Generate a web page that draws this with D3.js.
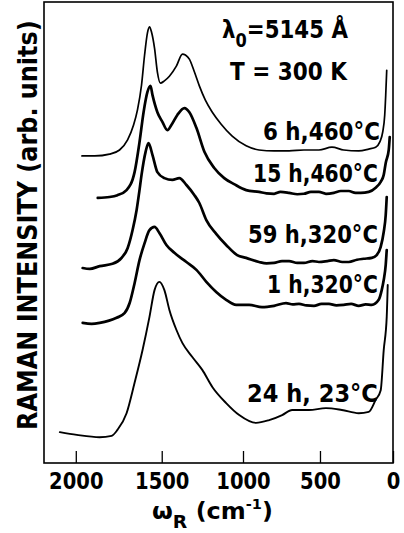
<!DOCTYPE html>
<html>
<head>
<meta charset="utf-8">
<script src="https://cdn.jsdelivr.net/npm/d3@7"></script>
<style>
  html, body { margin: 0; padding: 0; background: #fff; }
  svg text { font-family: "DejaVu Sans", sans-serif; fill: #000; }
</style>
</head>
<body>
<svg id="chart" width="404" height="533"></svg>
<script>
// Raman spectra of amorphous carbon films after different anneals (λ0 = 5145 Å, T = 300 K)
// Each spectrum: [Raman shift ω_R in cm^-1, intensity in arbitrary units incl. vertical offset]
const spec6h460 = [
  [1965, 66.6], [1892, 66.6], [1807, 67.0], [1749, 67.9], [1702, 70.1], [1667, 73.3],
  [1644, 76.6], [1620, 82.0], [1602, 88.5], [1585, 93.3], [1573, 94.6], [1561, 93.5],
  [1543, 90.0], [1526, 84.8], [1508, 82.4], [1484, 82.9], [1454, 83.9], [1412, 86.1],
  [1375, 88.7], [1357, 88.5], [1333, 87.6], [1302, 84.8], [1272, 81.8], [1235, 78.7],
  [1192, 76.1], [1137, 73.5], [1068, 70.9], [980, 68.8], [898, 67.9], [801, 67.7],
  [704, 67.7], [606, 67.9], [507, 67.9], [420, 68.5], [340, 67.9], [238, 67.7],
  [169, 68.1], [121, 68.5], [93, 69.6], [72, 71.8], [58, 75.5], [51, 79.8], [44, 85.2]
];
const spec15h460 = [
  [1875, 57.5], [1807, 57.7], [1761, 58.1], [1708, 59.2], [1661, 63.1], [1632, 69.6],
  [1608, 76.1], [1585, 80.5], [1567, 81.8], [1555, 79.8], [1526, 76.1], [1496, 74.0],
  [1466, 72.2], [1442, 73.3], [1406, 75.5], [1363, 77.0], [1333, 76.1], [1290, 72.7],
  [1241, 67.5], [1180, 64.0], [1118, 61.8], [1056, 60.5], [980, 59.2], [898, 58.8],
  [850, 58.5], [801, 58.4], [760, 58.8], [704, 58.6], [650, 58.3], [606, 58.4],
  [560, 58.8], [507, 58.8], [460, 58.4], [407, 58.6], [360, 59.0], [306, 59.0],
  [260, 58.6], [224, 58.6], [169, 58.8], [121, 59.7], [86, 61.0], [65, 62.5],
  [51, 65.1], [30, 67.9], [23, 70.7]
];
const spec59h320 = [
  [1961, 42.3], [1920, 42.1], [1864, 42.7], [1790, 43.2], [1737, 44.5], [1702, 46.6],
  [1673, 50.5], [1649, 54.9], [1632, 59.2], [1620, 62.5], [1596, 67.5], [1579, 69.4],
  [1555, 66.8], [1526, 63.1], [1484, 61.8], [1436, 61.4], [1394, 61.8], [1351, 60.3],
  [1302, 58.1], [1272, 56.4], [1229, 52.7], [1168, 49.7], [1106, 47.3], [1037, 45.1],
  [980, 44.5], [898, 43.6], [850, 43.3], [801, 43.4], [750, 43.8], [704, 43.8],
  [650, 43.4], [606, 43.4], [550, 43.8], [507, 43.6], [450, 43.8], [407, 44.0],
  [350, 43.6], [306, 43.6], [250, 44.1], [204, 44.3], [148, 44.5], [114, 45.1],
  [86, 46.9], [65, 50.1], [51, 53.8], [44, 57.7]
];
const spec1h320 = [
  [1961, 30.4], [1910, 30.2], [1864, 30.4], [1766, 31.5], [1720, 32.5], [1690, 34.7],
  [1661, 39.0], [1632, 44.0], [1602, 47.7], [1573, 50.5], [1543, 51.2], [1514, 49.9],
  [1472, 47.3], [1424, 45.6], [1351, 43.6], [1290, 41.9], [1229, 39.3], [1168, 37.1],
  [1106, 35.4], [1043, 34.3], [961, 34.3], [879, 33.8], [801, 34.1], [724, 34.7],
  [680, 34.4], [639, 34.5], [590, 34.2], [540, 34.1], [490, 34.5], [440, 34.5],
  [390, 34.2], [340, 34.3], [290, 34.5], [238, 34.1], [190, 34.4], [148, 34.3],
  [100, 35.4], [79, 37.5], [65, 39.7], [51, 43.0], [44, 46.2]
];
const spec24h23 = [
  [2090, 6.7], [1994, 6.1], [1864, 5.6], [1795, 5.9], [1761, 7.2], [1708, 10.8],
  [1661, 17.4], [1614, 24.5], [1573, 31.7], [1543, 37.5], [1514, 39.3], [1484, 37.5],
  [1454, 33.2], [1412, 28.9], [1375, 26.0], [1315, 23.0], [1254, 20.2], [1192, 16.5],
  [1106, 13.0], [1024, 10.4], [917, 8.7], [833, 9.3], [749, 10.4], [684, 11.5],
  [573, 11.5], [460, 11.9], [353, 11.5], [238, 10.8], [169, 11.1], [121, 13.7],
  [86, 15.8], [65, 24.5], [44, 31.7], [37, 38.6]
];

const spectra = [spec6h460, spec15h460, spec59h320, spec1h320, spec24h23];
const sampleLabels = ["6 h,460°C", "15 h,460°C", "59 h,320°C", "1 h,320°C", "24 h,  23°C"];
const xTicks = [2000, 1500, 1000, 500, 0];

// ---- layout ----
const W = 404, H = 533;
const plot = { left: 44, right: 393, top: 2, bottom: 463 };

// The monochromator scans linearly in wavelength, so the wavenumber axis is
// slightly compressed towards small shifts. Build a fine polylinear scale.
const lambda0 = 5145; // Å
const lambdaOf = w => 1e8 / (1e8 / lambda0 - w);
const xLam = d3.scaleLinear()
  .domain([lambdaOf(2178), lambdaOf(0)])
  .range([plot.left, plot.right]);
const wGrid = d3.range(2200, -1, -25);
const x = d3.scaleLinear()
  .domain(wGrid)
  .range(wGrid.map(w => xLam(lambdaOf(w))));

const y = d3.scaleLinear().domain([0, 100]).range([plot.bottom, plot.top]);

const svg = d3.select("#chart");

// Narrow lettering: draw text at its natural size, then squeeze it horizontally
// so that it spans the requested width.
function fitted(parent, left, baseline, width, size, rotate = 0) {
  const g = parent.append("g");
  const t = g.append("text").attr("x", 0).attr("y", 0)
    .attr("font-size", size).attr("font-weight", "bold");
  return {
    text: t,
    done() {
      const natural = t.node().getComputedTextLength();
      g.attr("transform",
        `translate(${left},${baseline}) rotate(${rotate}) scale(${width / natural},1)`);
    }
  };
}

// frame
svg.append("rect")
  .attr("x", plot.left).attr("y", plot.top)
  .attr("width", plot.right - plot.left).attr("height", plot.bottom - plot.top)
  .attr("fill", "none").attr("stroke", "#000").attr("stroke-width", 1.6);

// bottom axis with inward ticks
const axis = d3.axisBottom(x)
  .tickValues(xTicks)
  .tickSize(-12)
  .tickPadding(9)
  .tickFormat(d3.format("d"));
const gx = svg.append("g")
  .attr("transform", `translate(0,${plot.bottom})`)
  .call(axis);
gx.select(".domain").remove();
gx.selectAll(".tick line").attr("stroke", "#000").attr("stroke-width", 1.3);
gx.selectAll(".tick text")
  .attr("font-size", 23)
  .attr("font-weight", "bold")
  .attr("fill", "#000")
  .attr("dy", "0.72em")
  .each(function(d) {
    const s = String(d);
    d3.select(this).attr("textLength", s.length * 13.6).attr("lengthAdjust", "spacingAndGlyphs");
  });

// spectra
const line = d3.line()
  .x(d => x(d[0]))
  .y(d => y(d[1]))
  .curve(d3.curveMonotoneX);
const widths = [1.7, 2.7, 2.7, 2.7, 1.9];
svg.append("g").selectAll("path")
  .data(spectra)
  .join("path")
  .attr("d", line)
  .attr("fill", "none")
  .attr("stroke", "#000")
  .attr("stroke-width", (d, i) => widths[i])
  .attr("stroke-linejoin", "round")
  .attr("stroke-linecap", "round");

// sample labels, right-aligned near the Rayleigh line
const labelPos = [
  { right: 380, y: 140, len: 117 },
  { right: 378, y: 182, len: 125 },
  { right: 378, y: 243, len: 130 },
  { right: 378, y: 293, len: 111 },
  { right: 378, y: 402, len: 131 }
];
sampleLabels.forEach((s, i) => {
  const p = labelPos[i];
  const f = fitted(svg, p.right - p.len, p.y, p.len, 25);
  f.text.text(s);
  f.done();
});

// excitation and temperature
const exc = fitted(svg, 222, 38, 126, 25);
exc.text.append("tspan").text("λ");
exc.text.append("tspan").attr("font-size", 19).attr("dy", 9).text("0");
exc.text.append("tspan").attr("dy", -9).text("=5145 Å");
exc.done();

const temp = fitted(svg, 230, 80, 117, 25);
temp.text.text("T = 300 K");
temp.done();

// axis titles
const xt = fitted(svg, 152, 519, 121, 23);
xt.text.append("tspan").text("ω");
xt.text.append("tspan").attr("font-size", 18).attr("dy", 9).text("R");
xt.text.append("tspan").attr("dy", -9).text(" (cm");
xt.text.append("tspan").attr("font-size", 14).attr("dy", -10).text("-1");
xt.text.append("tspan").attr("dy", 10).text(")");
xt.done();

const yt = fitted(svg, 37, 430, 410, 27, -90);
yt.text.text("RAMAN INTENSITY (arb. units)");
yt.done();
</script>
</body>
</html>
